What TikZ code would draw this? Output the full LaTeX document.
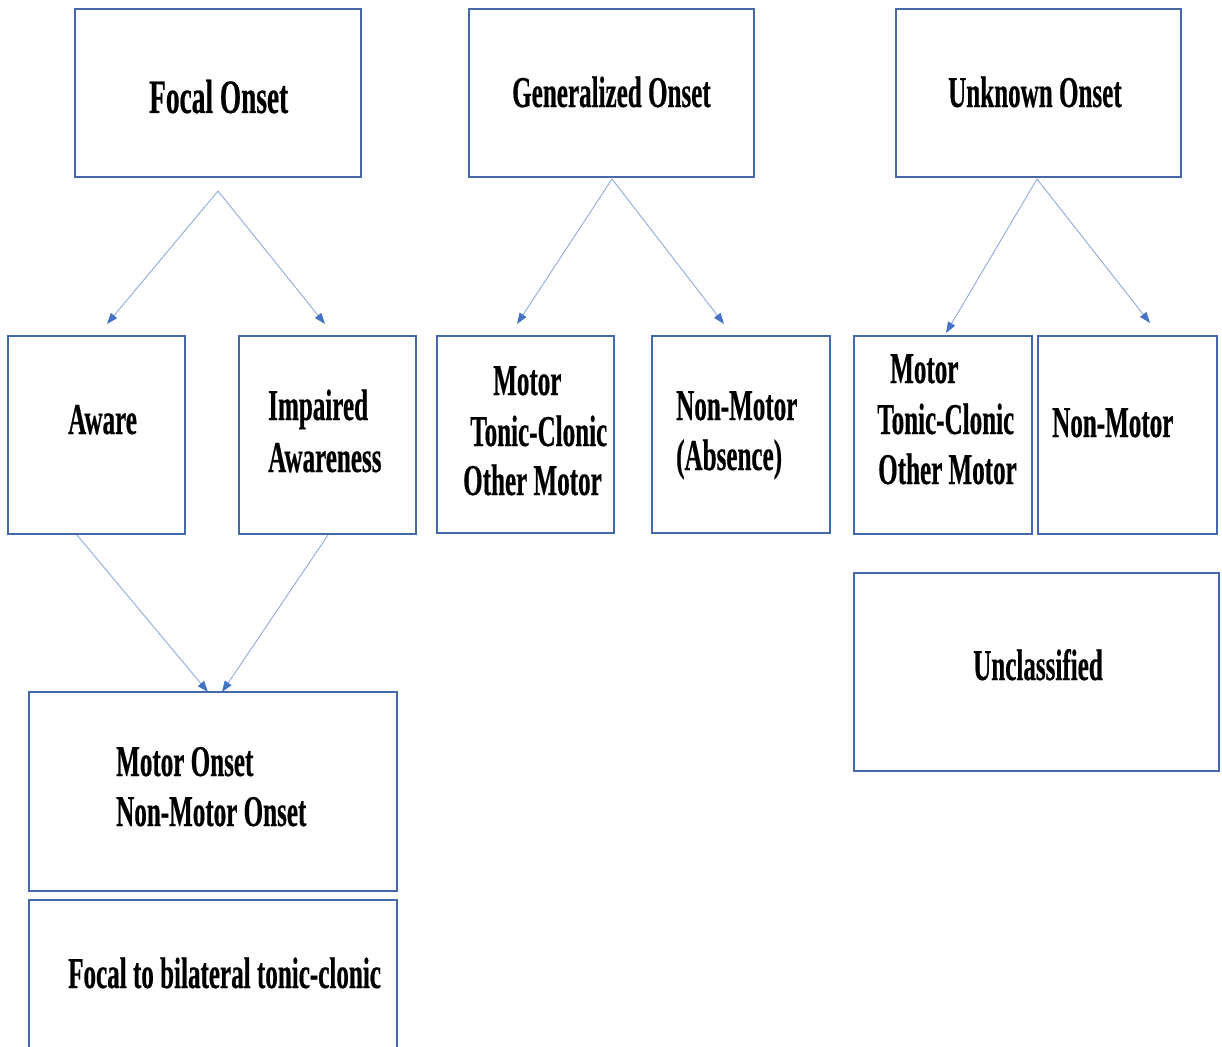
\documentclass[tikz,border=0pt]{standalone}
\usepackage{fontspec}
\setmainfont{Liberation Serif}
\newfontfamily\tnr{Liberation Serif}[FakeStretch=0.57,FakeBold=0.4]
\usetikzlibrary{arrows.meta}
\definecolor{boxblue}{RGB}{68,104,170}
\definecolor{lineblue}{RGB}{143,170,220}
\definecolor{tipblue}{RGB}{68,114,196}
\tikzset{
  box/.style={draw=boxblue, line width=1.5pt, inner sep=0pt},
  txt/.style={inner sep=0pt, anchor=base west, text=black,
    font={\tnr\bfseries\fontsize{44}{50}\selectfont}},
  bigtxt/.style={txt, font={\tnr\bfseries\fontsize{48}{52}\selectfont}},
  arr/.style={draw=lineblue, line width=0.9pt,
    -{Triangle[length=11pt,width=8pt,color=tipblue]}}
}
\begin{document}
\begin{tikzpicture}[x=1pt,y=-1pt]
\useasboundingbox (0,0) rectangle (1222,1046);
\clip (0,0) rectangle (1222,1046);
% boxes
\node[box, minimum width=286pt, minimum height=168pt] (fo) at (218,93) {};
\node[box, minimum width=285pt, minimum height=168pt] (go) at (611.5,93) {};
\node[box, minimum width=285pt, minimum height=168pt] (uo) at (1038.5,93) {};
\node[box, minimum width=177pt, minimum height=198pt] (aw) at (96.5,435) {};
\node[box, minimum width=177pt, minimum height=198pt] (ia) at (327.5,435) {};
\node[box, minimum width=177pt, minimum height=197pt] (gm) at (525.5,434.5) {};
\node[box, minimum width=178pt, minimum height=197pt] (gn) at (741,434.5) {};
\node[box, minimum width=178pt, minimum height=198pt] (um) at (943,435) {};
\node[box, minimum width=179pt, minimum height=198pt] (un) at (1127.5,435) {};
\node[box, minimum width=365pt, minimum height=198pt] (uc) at (1036.5,672) {};
\node[box, minimum width=368pt, minimum height=199pt] (mo) at (213,791.5) {};
\node[box, minimum width=368pt, minimum height=170pt] (fb) at (213,985) {};
% texts
\node[bigtxt] (t-fo) at (149,113) {Focal Onset};
\node[txt] (t-go) at (512,107) {Generalized Onset};
\node[txt] (t-uo) at (948,107) {Unknown Onset};
\node[txt] (t-aw) at (68,434) {Aware};
\node[txt] (t-ia1) at (268,420) {Impaired};
\node[txt] (t-ia2) at (268,472) {Awareness};
\node[txt] (t-gm1) at (493,395) {Motor};
\node[txt] (t-gm2) at (470,446) {Tonic-Clonic};
\node[txt] (t-gm3) at (463,495) {Other Motor};
\node[txt] (t-gn1) at (676,420) {Non-Motor};
\node[txt] (t-gn2) at (676,470) {(Absence)};
\node[txt] (t-um1) at (890,383) {Motor};
\node[txt] (t-um2) at (877,434) {Tonic-Clonic};
\node[txt] (t-um3) at (878,484) {Other Motor};
\node[txt] (t-un) at (1052,437) {Non-Motor};
\node[txt] (t-uc) at (973,680) {Unclassified};
\node[txt] (t-mo1) at (116,776) {Motor Onset};
\node[txt] (t-mo2) at (116,826) {Non-Motor Onset};
\node[txt] (t-fb) at (68,988) {Focal to bilateral tonic-clonic};
% connector ends
\coordinate (fo-o) at (218,191);
\coordinate (aw-in) at (107,324);
\coordinate (ia-in) at (325,324);
\coordinate (go-o) at (612,179);
\coordinate (gm-in) at (517,324);
\coordinate (gn-in) at (724,324);
\coordinate (uo-o) at (1037,179);
\coordinate (um-in) at (946,333);
\coordinate (un-in) at (1150,323);
\coordinate (aw-o) at (77,535);
\coordinate (ia-o) at (328,535);
\coordinate (mo-in1) at (208,692);
\coordinate (mo-in2) at (222,692);
% connectors
\draw[arr] (fo-o) -- (aw-in);
\draw[arr] (fo-o) -- (ia-in);
\draw[arr] (go-o) -- (gm-in);
\draw[arr] (go-o) -- (gn-in);
\draw[arr] (uo-o) -- (um-in);
\draw[arr] (uo-o) -- (un-in);
\draw[arr] (aw-o) -- (mo-in1);
\draw[arr] (ia-o) -- (mo-in2);
\end{tikzpicture}
\end{document}
